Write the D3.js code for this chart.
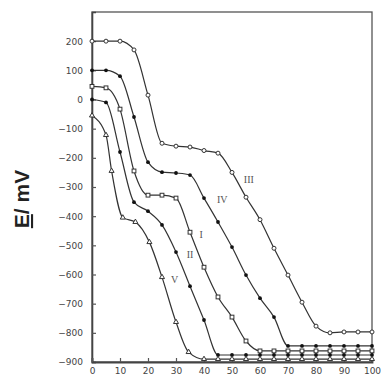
<!DOCTYPE html>
<html lang="en">
<head>
<meta charset="UTF-8">
<title>E / mV curves</title>
<script src="https://cdn.jsdelivr.net/npm/d3@7/dist/d3.min.js"></script>
<style>
  body { margin: 0; background: #fff; }
  svg { display: block; }
  .tick-label { font-family: "DejaVu Sans", sans-serif; font-size: 9px; fill: #444; }
  .curve { fill: none; stroke: #333; stroke-width: 1.2px; }
  .roman { font-family: "Liberation Serif", serif; font-size: 10px; fill: #555; }
</style>
</head>
<body>
<svg id="chart"></svg>
<script>
// titration curves
const curveIII_x = [0, 5, 10, 15, 20, 25, 30, 35, 40, 45, 50, 55, 60, 65, 70, 75, 80, 85, 90, 95, 100];
const curveIII_y = [200, 200, 200, 170, 15, -150, -160, -163, -175, -184, -250, -335, -412, -510, -602, -695, -777, -800, -797, -797, -797];

const curveIV_x = [0, 5, 10, 15, 20, 25, 30, 35, 40, 45, 50, 55, 60, 65, 70, 75, 80, 85, 90, 95, 100];
const curveIV_y = [100, 100, 80, -60, -215, -249, -252, -259, -338, -420, -506, -602, -681, -746, -845, -845, -845, -845, -845, -845, -845];

const curveI_x = [0, 5, 10, 15, 20, 25, 30, 35, 40, 45, 50, 55, 60, 65, 70, 75, 80, 85, 90, 95, 100];
const curveI_y = [45, 40, -33, -245, -328, -328, -338, -455, -575, -677, -746, -828, -862, -862, -862, -862, -862, -862, -862, -862, -862];

const curveII_x = [0, 5, 10, 15, 20, 25, 30, 35, 40, 45, 50, 55, 60, 65, 70, 75, 80, 85, 90, 95, 100];
const curveII_y = [0, -10, -180, -352, -383, -430, -523, -640, -756, -876, -876, -876, -876, -876, -876, -876, -876, -876, -876, -876, -876];

const curveV_x = [0, 5, 7, 11, 15.5, 20.5, 25, 30, 34.5, 40, 45, 50, 55, 60, 65, 70, 75, 80, 85, 90, 95, 100];
const curveV_y = [-55, -122, -245, -405, -420, -489, -609, -763, -866, -890, -890, -890, -890, -890, -890, -890, -890, -890, -890, -890, -890, -890];

const curveNames = ["III", "IV", "I", "II", "V"];
const curveMarkers = ["openCircle", "dot", "openSquare", "dot", "openTriangle"];
// where the roman numeral sits, in data units
const labelX = [56, 46.5, 39, 35, 29.5];
const labelY = [-286, -355, -475, -543, -629];

const xTicks = [0, 10, 20, 30, 40, 50, 60, 70, 80, 90, 100];
const yTicks = [200, 100, 0, -100, -200, -300, -400, -500, -600, -700, -800, -900];

const width = 381, height = 379;
const plotLeft = 92, plotRight = 372, plotTop = 12, plotBottom = 362;

const svg = d3.select("#chart").attr("width", width).attr("height", height);

const x = d3.scaleLinear().domain([0, 100]).range([plotLeft, plotRight]);
const y = d3.scaleLinear().domain([-900, 300]).range([plotBottom, plotTop]);

// frame
svg.append("rect")
  .attr("x", plotLeft).attr("y", plotTop)
  .attr("width", plotRight - plotLeft).attr("height", plotBottom - plotTop)
  .attr("fill", "none").attr("stroke", "#555").attr("stroke-width", 1.3);

// axes with inward ticks
const yAxis = d3.axisLeft(y).tickValues(yTicks).tickSize(-4).tickPadding(9)
  .tickFormat(d => d === 0 ? "0" : d3.format("d")(d));
const gy = svg.append("g").attr("transform", `translate(${plotLeft},0)`).call(yAxis);
gy.select(".domain").attr("stroke", "#444").attr("stroke-width", 1.6);
gy.selectAll(".tick line").attr("stroke", "#555").attr("stroke-width", 1.2);
gy.selectAll(".tick text").attr("class", "tick-label").attr("font-family", null).attr("font-size", null);

const xAxis = d3.axisBottom(x).tickValues(xTicks).tickSize(-4).tickPadding(6);
const gx = svg.append("g").attr("transform", `translate(0,${plotBottom})`).call(xAxis);
gx.select(".domain").attr("stroke", "#444").attr("stroke-width", 1.8);
gx.selectAll(".tick line").attr("stroke", "#555").attr("stroke-width", 1.2);
gx.selectAll(".tick text").attr("class", "tick-label").attr("font-family", null).attr("font-size", null);

// y title
const title = svg.append("text")
  .attr("transform", "translate(29,199) rotate(-90)")
  .attr("text-anchor", "middle")
  .attr("font-family", "Liberation Sans, Arial, sans-serif")
  .attr("font-size", 21)
  .attr("font-weight", "bold")
  .attr("fill", "#222");
title.append("tspan").attr("text-decoration", "underline").text("E");
title.append("tspan").text("/ mV");

// curves
const xsAll = [curveIII_x, curveIV_x, curveI_x, curveII_x, curveV_x];
const ysAll = [curveIII_y, curveIV_y, curveI_y, curveII_y, curveV_y];

const line = d3.line()
  .x(d => x(d[0]))
  .y(d => y(d[1]))
  .curve(d3.curveMonotoneX);

curveNames.forEach((name, i) => {
  const pts = xsAll[i].map((v, j) => [v, ysAll[i][j]]);
  svg.append("path").attr("class", "curve").attr("d", line(pts));

  const g = svg.append("g");
  const kind = curveMarkers[i];
  if (kind === "openCircle") {
    g.selectAll("circle").data(pts).enter().append("circle")
      .attr("cx", d => x(d[0])).attr("cy", d => y(d[1])).attr("r", 2)
      .attr("fill", "#fff").attr("stroke", "#333").attr("stroke-width", 1);
  } else if (kind === "dot") {
    g.selectAll("circle").data(pts).enter().append("circle")
      .attr("cx", d => x(d[0])).attr("cy", d => y(d[1])).attr("r", 1.9)
      .attr("fill", "#111");
  } else if (kind === "openSquare") {
    g.selectAll("rect").data(pts).enter().append("rect")
      .attr("x", d => x(d[0]) - 1.9).attr("y", d => y(d[1]) - 1.9)
      .attr("width", 3.8).attr("height", 3.8)
      .attr("fill", "#fff").attr("stroke", "#333").attr("stroke-width", 1);
  } else {
    const tri = d3.symbol().type(d3.symbolTriangle).size(11);
    g.selectAll("path").data(pts).enter().append("path")
      .attr("d", tri)
      .attr("transform", d => `translate(${x(d[0])},${y(d[1])})`)
      .attr("fill", "#fff").attr("stroke", "#333").attr("stroke-width", 1);
  }

  svg.append("text").attr("class", "roman")
    .attr("x", x(labelX[i])).attr("y", y(labelY[i]))
    .attr("text-anchor", "middle")
    .text(name);
});
</script>
</body>
</html>
